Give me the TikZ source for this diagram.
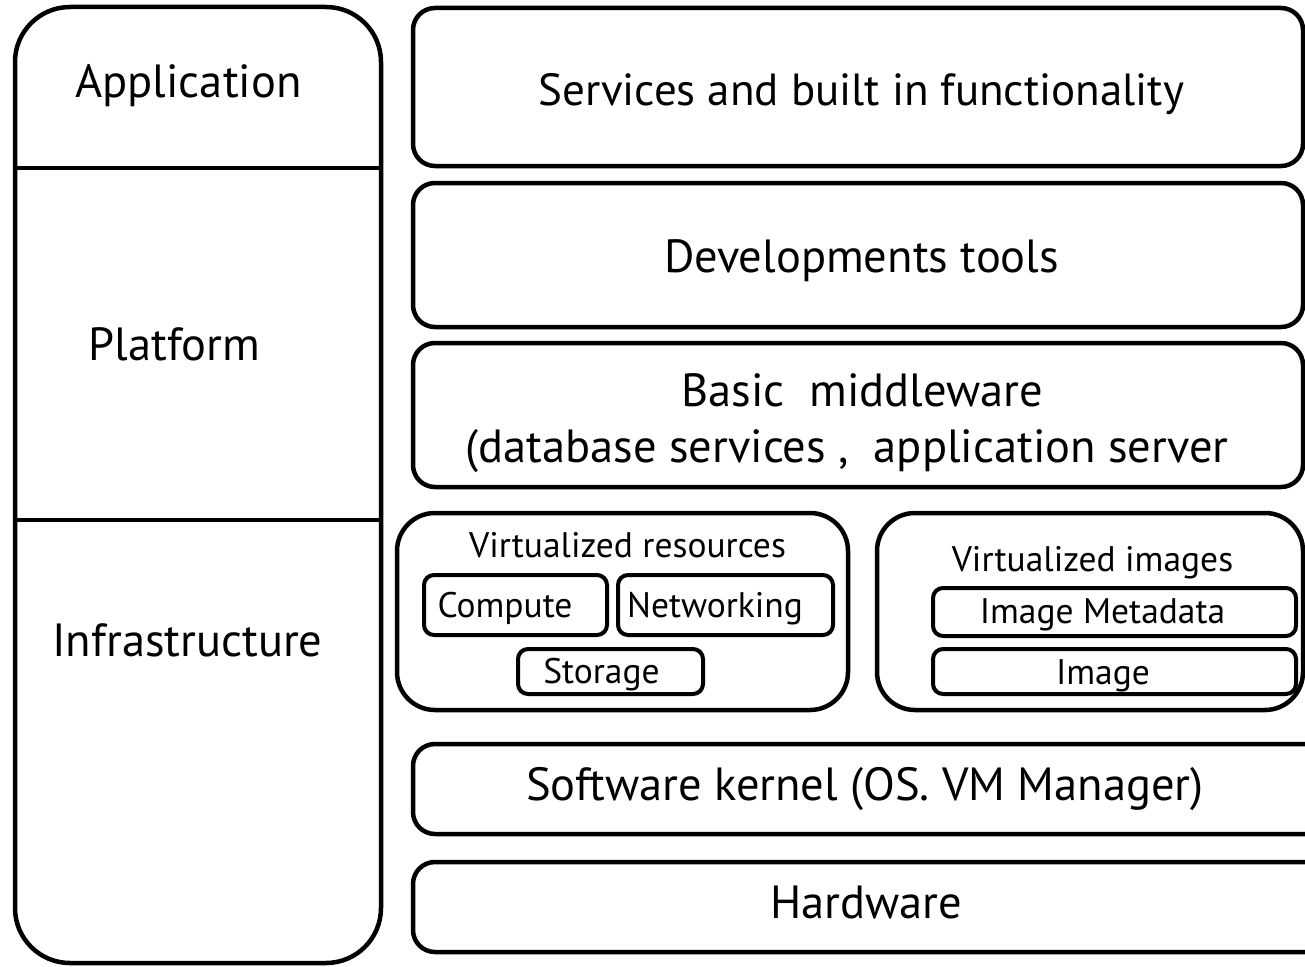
\documentclass[tikz,border=0pt]{standalone}
\usepackage{fontspec}
\setmainfont{PT Sans}
\begin{document}
\begin{tikzpicture}[x=1pt,y=-1pt,
  frame/.style={draw=black,line width=4.5pt,rounded corners=#1,outer sep=0pt,inner sep=0pt},
  frame/.default=22pt,
  bigtxt/.style={anchor=base,inner sep=0pt,font=\fontsize{46.5}{50}\selectfont},
  smalltxt/.style={anchor=base,inner sep=0pt,font=\fontsize{35.5}{38}\selectfont}]
\useasboundingbox (0,0) rectangle (1305,966);
\clip (0,0) rectangle (1305,966);

% layer column on the left
\node[frame=55pt,minimum width=366pt,minimum height=956pt] (layers) at (198,485) {};
\coordinate (cutA) at (0,168);
\coordinate (cutB) at (0,520);
\draw[line width=4pt] (layers.west |- cutA) -- (layers.east |- cutA);
\draw[line width=4pt] (layers.west |- cutB) -- (layers.east |- cutB);
\node[bigtxt] (tApp) at (188.5,97) {Application};
\node[bigtxt] (tPlat) at (174.5,360) {Platform};
\node[bigtxt] (tInfra) at (187.5,656) {Infrastructure};

% stack of services on the right
\node[frame,minimum width=890pt,minimum height=158pt] (svc) at (858,87) {};
\node[frame,minimum width=890pt,minimum height=144pt] (dev) at (858,255) {};
\node[frame,minimum width=890pt,minimum height=144pt] (mw) at (858,415) {};
\node[frame=38pt,minimum width=451pt,minimum height=197pt] (vres) at (622.5,611.5) {};
\node[frame=38pt,minimum width=426pt,minimum height=197pt] (vimg) at (1090,611.5) {};
\node[frame,minimum width=917pt,minimum height=90pt] (sk) at (871.5,789) {};
\node[frame,minimum width=917pt,minimum height=90pt] (hw) at (871.5,907) {};

\node[bigtxt,font=\fontsize{45}{50}\selectfont] (tSvc) at (861.5,105) {Services and built in functionality};
\node[bigtxt] (tDev) at (861.5,272) {Developments tools};
\node[bigtxt] (tMw1) at (862.5,406) {Basic\ \ middleware};
\node[bigtxt] (tMw2) at (847,462) {(database services ,\ \ application server};
\node[bigtxt] (tSk) at (865,800) {Software kernel (OS. VM Manager)};
\node[bigtxt] (tHw) at (866.5,918) {Hardware};

% virtualized resources
\node[smalltxt] (tVres) at (627.5,557) {Virtualized resources};
\node[frame=10pt,line width=4pt,minimum width=183pt,minimum height=60pt] (compute) at (515.5,605) {};
\node[frame=10pt,line width=4pt,minimum width=215pt,minimum height=60pt] (net) at (725.5,605) {};
\node[frame=10pt,line width=4pt,minimum width=185pt,minimum height=45pt] (stor) at (610.5,671.5) {};
\node[smalltxt] (tCompute) at (505,617) {Compute};
\node[smalltxt] (tNet) at (715,617) {Networking};
\node[smalltxt] (tStor) at (601.5,683) {Storage};

% virtualized images
\node[smalltxt] (tVimg) at (1092.5,571) {Virtualized images};
\node[frame=10pt,line width=4pt,minimum width=363pt,minimum height=48pt] (meta) at (1114.5,612) {};
\node[frame=10pt,line width=4pt,minimum width=363pt,minimum height=45pt] (img) at (1114.5,671.5) {};
\node[smalltxt] (tMeta) at (1102.5,623) {Image Metadata};
\node[smalltxt] (tImg) at (1103,684) {Image};
\end{tikzpicture}
\end{document}
